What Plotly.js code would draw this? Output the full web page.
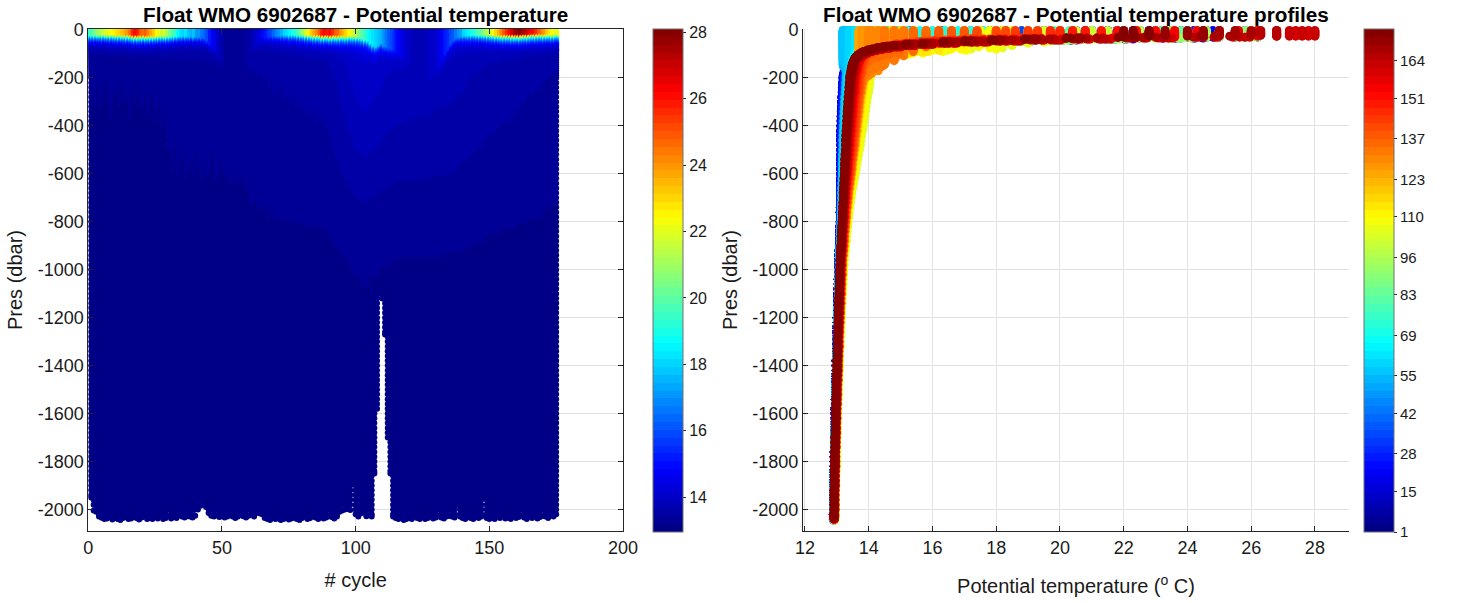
<!DOCTYPE html>
<html><head><meta charset="utf-8">
<script src="https://cdn.plot.ly/plotly-3.0.1.min.js"></script>
<style>html,body{margin:0;padding:0;background:#fff}#chart{width:1471px;height:603px}</style>
</head><body><div id="chart"></div>
<script>
// ---------------- DATA ----------------
// pressure levels (dbar)
const presLevels = [2,6,10,14,18,22,26,30,34,38,42,46,50,55,60,65,70,75,80,85,90,96,102,108,114,120,128,136,144,152,160,170,180,190,200,
220,240,260,280,300,320,340,360,380,400,
420,440,460,480,500,520,540,560,580,600,
620,640,660,680,700,720,740,760,780,800,
820,840,860,880,900,920,940,960,980,1000,
1020,1040,1060,1080,1100,1120,1140,1160,1180,1200,
1220,1240,1260,1280,1300,1320,1340,1360,1380,1400,
1420,1440,1460,1480,1500,1520,1540,1560,1580,1600,
1620,1640,1660,1680,1700,1720,1740,1760,1780,1800,
1820,1840,1860,1880,1900,1920,1940,1960,1980,2000,
2020,2040];
// background potential temperature profile at those levels (deg C)
const baseTemp = [13.80,13.79,13.78,13.77,13.76,13.75,13.74,13.73,13.72,13.71,13.70,13.69,13.68,13.67,13.66,13.65,13.64,13.63,13.62,13.61,13.60,13.59,13.58,13.57,13.56,13.55,13.54,13.53,13.52,13.51,13.50,13.49,13.48,13.46,13.45,
13.44,13.43,13.42,13.40,13.39,13.38,13.37,13.36,13.35,13.34,
13.33,13.32,13.31,13.31,13.30,13.29,13.28,13.27,13.27,13.26,
13.25,13.24,13.23,13.22,13.22,13.21,13.20,13.19,13.19,13.18,
13.17,13.16,13.15,13.15,13.14,13.13,13.12,13.11,13.11,13.10,
13.10,13.09,13.09,13.08,13.08,13.07,13.07,13.06,13.06,13.05,
13.05,13.04,13.04,13.03,13.03,13.03,13.02,13.02,13.01,13.01,
13.01,13.00,13.00,12.99,12.99,12.99,12.98,12.98,12.97,12.97,
12.97,12.96,12.96,12.96,12.95,12.95,12.95,12.94,12.94,12.94,
12.94,12.93,12.93,12.93,12.93,12.92,12.92,12.92,12.92,12.92,
12.91,12.91];
// how strongly each level follows a cycle's sub-surface anomaly
const anomalyWeight = [1,1,1,1,1,1,1,1,1,1,1,1,1,1,1,1,1,1,1,1,1,1,1,1,1,1,1,1,1,1,1,1,1,1,1,
1.00,0.98,0.96,0.94,0.92,0.90,0.88,0.86,0.84,0.82,
0.80,0.77,0.74,0.71,0.68,0.65,0.62,0.59,0.56,0.53,
0.50,0.47,0.44,0.41,0.38,0.36,0.34,0.32,0.30,0.28,
0.27,0.26,0.25,0.24,0.23,0.22,0.21,0.20,0.19,0.18,
0.18,0.17,0.17,0.16,0.16,0.15,0.15,0.14,0.14,0.14,
0.13,0.13,0.13,0.12,0.12,0.12,0.11,0.11,0.11,0.11,
0.10,0.10,0.10,0.10,0.09,0.09,0.09,0.09,0.09,0.08,
0.08,0.08,0.08,0.08,0.08,0.07,0.07,0.07,0.07,0.07,
0.07,0.07,0.06,0.06,0.06,0.06,0.06,0.06,0.06,0.06,
0.06,0.06];

// per cycle (cycles 1..175)
const surfaceTemp = [19.5,20,20.5,20.8,
21,21.5,21.8,22,22.3,22.5,22.8,23,23.3,23.5,
24,24.5,25.5,26.2,25.8,25,24.6,24.8,24.2,23.8,23.2,
22.5,22,21.5,21.8,21,20.5,20,19.5,
18.8,18.3,18,18.2,17.8,17.5,17.8,17.2,17,16.6,16.3,
15.8,15.3,14.8,14.4,14.0,13.7,13.5,13.4,13.3,13.2,13.2,13.3,13.2,13.3,13.4,13.5,13.6,13.8,14.0,14.3,14.6,14.9,15.2,15.6,16.0,16.4,16.8,17.2,
17.6,18,18.3,18.6,19,19.3,19.8,20.3,21,21.8,22.5,23.2,
23.8,24.3,25,25.8,26.2,25.9,26,25.5,25,24.6,24,23.5,23,
22.5,22,21.5,21,20.5,20,19.5,
19,18.5,18.2,18,17.8,17.5,
17.0,16.6,16.2,15.8,15.4,15.0,14.7,14.4,14.2,14.0,13.9,13.8,13.8,13.7,13.7,13.8,13.8,13.9,14.0,14.1,14.3,14.5,14.8,15.1,15.4,15.8,16.2,16.6,17.0,17.4,
18,18.3,18.6,19,19.3,19.7,20,20.4,20.8,21.3,21.8,22.4,23,23.6,24.3,
25,25.6,26.2,26.8,27.4,27.8,28,27.6,27.2,26.8,26.3,26,25.5,25,24.5,24,
23.3,22.8,22.3,22];
const mixedLayerDepth = [32,32,31,31,30,30,30,30,30,30,30,30,30,30,
30,30,31,31,32,32,32,33,33,33,34,
34,34,34,35,35,35,35,35,36,36,36,36,37,37,38,38,40,42,45,
55,65,80,90,110,130,140,150,150,150,150,140,130,120,110,100,
90,80,70,60,50,45,40,38,36,35,34,33,
32,32,31,31,30,30,30,30,30,30,30,30,
30,30,30,30,30,30,31,31,32,32,33,33,34,
34,35,36,38,40,45,50,
55,65,75,80,75,65,
75,80,85,90,95,100,110,120,130,140,150,160,170,180,190,200,200,200,190,180,170,150,130,110,90,
70,55,45,40,36,34,33,32,31,30,30,30,30,30,30,
30,30,30,30,30,29,29,28,28,28,27,27,26,26,26,25,25,25,25,26,27,28,28,29,30];
const deepAnomaly = [-0.20,-0.24,-0.22,-0.25,-0.21,-0.23,-0.26,-0.22,-0.20,-0.24,-0.23,-0.21,-0.25,-0.22,-0.24,-0.20,-0.23,-0.22,-0.25,-0.21,-0.22,-0.24,-0.20,-0.23,-0.21,-0.19,-0.22,-0.18,-0.20,-0.17,
-0.16,-0.14,-0.17,-0.13,-0.15,-0.16,-0.12,-0.14,-0.15,-0.13,-0.16,-0.14,-0.12,-0.15,-0.13,-0.14,-0.16,-0.12,-0.13,-0.15,-0.14,-0.12,-0.13,-0.11,-0.14,-0.12,-0.10,-0.13,-0.11,-0.09,
-0.06,-0.04,-0.07,-0.03,-0.05,-0.02,-0.04,0.00,-0.03,0.01,0.00,0.02,-0.01,0.03,0.01,0.04,0.02,0.05,0.03,0.06,0.04,0.07,0.05,0.08,0.06,0.09,0.07,0.10,0.08,0.11,
0.15,0.18,0.22,0.25,0.30,0.34,0.38,0.42,0.46,0.50,0.54,0.56,0.58,0.60,0.58,0.56,0.55,0.52,0.50,0.48,0.46,0.44,
0.42,0.40,0.40,0.38,0.39,0.37,0.38,0.36,0.37,0.35,0.36,0.34,0.35,0.36,0.34,0.35,0.33,0.34,0.32,0.33,0.31,0.32,0.30,0.31,0.29,0.28,0.27,0.26,0.25,0.24,0.22,0.21,0.20,
0.18,0.17,0.16,0.15,0.14,0.13,0.12,0.12,0.11,0.10,0.10,0.09,0.08,0.08,0.07,
0.06,0.05,0.04,0.03,0.02,0.02,0.01,0.00,0.00,-0.01,-0.02,-0.02,-0.03,-0.04,-0.05];
const maxPres = [1950,2005,2010,2030,2035,2040,2038,2030,2042,2036,
2040,2044,2036,2032,2040,2038,2030,2036,2042,2034,
2028,2040,2036,2040,2032,2038,2030,2040,2036,2026,
2038,2030,2036,2024,2030,2034,2028,2030,2034,2026,
2000,1985,1975,1990,2015,2026,2030,2024,2032,2028,
2034,2030,2024,2030,2036,2030,2022,2028,2034,2026,
2020,2030,2014,2016,2020,2036,2040,2044,2036,2040,
2038,2044,2040,2036,2042,2038,2034,2040,2044,2036,
2030,2040,2036,2028,2034,2040,2030,2038,2034,2026,
2032,2038,2030,2010,2004,2000,1998,2002,1890,2020,
2030,2016,2012,2028,2024,2030,1850,1580,1100,1120,
1270,1700,1850,2030,2036,2040,2036,2044,2040,2036,
2040,2030,2036,2040,2032,2040,2036,2030,2038,2034,
2026,2034,2038,2030,2026,2030,2034,1980,2030,2036,
2040,2030,2036,2040,2032,2036,2030,1950,2036,2040,
2034,2040,2030,2036,2028,2038,2034,2040,2030,2036,
2032,2026,2034,2040,2030,2036,2028,2038,2032,2026,
2030,2036,2024,2030,2020];
const thermoclineScale = 18; // dbar, e-folding of the warm surface layer

// tick labels
const presTicks = [0,-200,-400,-600,-800,-1000,-1200,-1400,-1600,-1800,-2000];
const presTickText = ['0','-200','-400','-600','-800','-1000','-1200','-1400','-1600','-1800','-2000'];
const cycleTicks = [0,50,100,150,200];
const tempTicks = [12,14,16,18,20,22,24,26,28];
const tempBarTicks = [14,16,18,20,22,24,26,28];
const cycleBarTicks = [1,15,28,42,55,69,83,96,110,123,137,151,164];

// ---------------- build points ----------------
const cycleNumbers = surfaceTemp.map((_, i) => i + 1);
const ptCycle = [], ptPres = [], ptTemp = [];
cycleNumbers.forEach((cyc, i) => {
  const S = surfaceTemp[i], h = mixedLayerDepth[i], a = deepAnomaly[i], pmax = maxPres[i];
  let kh = 0;
  presLevels.forEach((p, k) => { if (p <= h) kh = k; });
  const Bh = baseTemp[kh] + a * anomalyWeight[kh];
  let lastDeep = baseTemp[0];
  for (let k = 0; k < presLevels.length; k++) {
    const p = presLevels[k];
    if (p > pmax - 8) break;
    const B = baseTemp[k] + a * anomalyWeight[k];
    const T = p <= h ? S : B + (S - Bh) * Math.exp(-(p - h) / thermoclineScale);
    lastDeep = B;
    ptCycle.push(cyc); ptPres.push(-p); ptTemp.push(+T.toFixed(3));
  }
  ptCycle.push(cyc); ptPres.push(-pmax); ptTemp.push(lastDeep);
});

// MATLAB-like jet(64) stepped colour scale
function jetColor(f) {
  const c = v => Math.round(255 * Math.min(1, Math.max(0, v)));
  return 'rgb(' + c(1.5 - Math.abs(4 * f - 3)) + ',' + c(1.5 - Math.abs(4 * f - 2)) + ',' + c(1.5 - Math.abs(4 * f - 1)) + ')';
}
const jetScale = [];
for (let i = 0; i < 64; i++) {
  const col = jetColor((i + 0.5) / 64);
  jetScale.push([i / 64, col], [(i + 1) / 64, col]);
}

const FONT = 'Liberation Sans, Arial, Helvetica, sans-serif';
const INK = '#262626';
const W = 1471, H = 603;
const yDom = [1 - 531 / H, 1 - 29 / H];

function cbar(x, vals, size) {
  return {x: x, xanchor: 'left', y: yDom[1], yanchor: 'top', len: 503 / H, lenmode: 'fraction',
    thickness: 30, thicknessmode: 'pixels', xpad: 0, ypad: 0, outlinewidth: 1, outlinecolor: '#707070',
    ticks: 'outside', ticklen: 3, tickcolor: INK, tickvals: vals,
    tickfont: {family: FONT, size: size, color: '#1a1a1a'}};
}

const traces = [
  {type: 'scatter', mode: 'markers', x: ptCycle, y: ptPres, xaxis: 'x', yaxis: 'y', hoverinfo: 'skip',
   marker: {size: 6, color: ptTemp, colorscale: jetScale, cmin: 12.95, cmax: 28.1, line: {width: 0},
            colorbar: cbar(653 / W, tempBarTicks, 16)}},
  {type: 'scatter', mode: 'markers', x: ptTemp, y: ptPres, xaxis: 'x2', yaxis: 'y2', hoverinfo: 'skip', cliponaxis: false,
   marker: {size: 9, color: ptCycle, colorscale: jetScale, cmin: 1, cmax: 175, line: {width: 0},
            colorbar: cbar(1364 / W, cycleBarTicks, 15)}}
];

const axBase = {linecolor: INK, linewidth: 1, ticks: 'inside', ticklen: 5, tickcolor: INK, showline: true,
  showgrid: true, gridcolor: '#e2e2e2', gridwidth: 1, zeroline: false, automargin: false,
  tickfont: {family: FONT, size: 18, color: '#1a1a1a'}};
const titleFont = {family: FONT, size: 20, color: '#1a1a1a'};

const layout = {
  width: W, height: H, margin: {l: 0, r: 0, t: 0, b: 0}, paper_bgcolor: '#fff', plot_bgcolor: '#fff',
  showlegend: false, font: {family: FONT},
  xaxis: Object.assign({}, axBase, {domain: [88.3 / W, 623 / W], range: [0, 200], tickvals: cycleTicks,
    mirror: 'ticks', anchor: 'y', title: {text: '# cycle', font: titleFont, standoff: 16}}),
  yaxis: Object.assign({}, axBase, {domain: yDom, range: [-2090, 4], tickvals: presTicks, ticktext: presTickText,
    mirror: 'ticks', anchor: 'x', title: {text: 'Pres (dbar)', font: titleFont, standoff: 9}}),
  xaxis2: Object.assign({}, axBase, {domain: [803 / W, 1349 / W], range: [11.94, 29.07], tickvals: tempTicks,
    anchor: 'y2', title: {text: 'Potential temperature (<sup>o</sup> C)', font: titleFont, standoff: 22}}),
  yaxis2: Object.assign({}, axBase, {domain: yDom, range: [-2090, 4], tickvals: presTicks, ticktext: presTickText,
    anchor: 'x2', title: {text: 'Pres (dbar)', font: titleFont, standoff: 9}}),
  annotations: [
    {text: '<b>Float WMO 6902687 - Potential temperature</b>', xref: 'paper', yref: 'paper',
     x: 355.6 / W, y: 1 - 15 / H, xanchor: 'center', yanchor: 'middle', showarrow: false,
     font: {family: FONT, size: 20.7, color: '#000'}},
    {text: '<b>Float WMO 6902687 - Potential temperature profiles</b>', xref: 'paper', yref: 'paper',
     x: 1076 / W, y: 1 - 15 / H, xanchor: 'center', yanchor: 'middle', showarrow: false,
     font: {family: FONT, size: 20.7, color: '#000'}}
  ]
};

Plotly.newPlot('chart', traces, layout, {staticPlot: true, displayModeBar: false});
</script>
</body></html>
